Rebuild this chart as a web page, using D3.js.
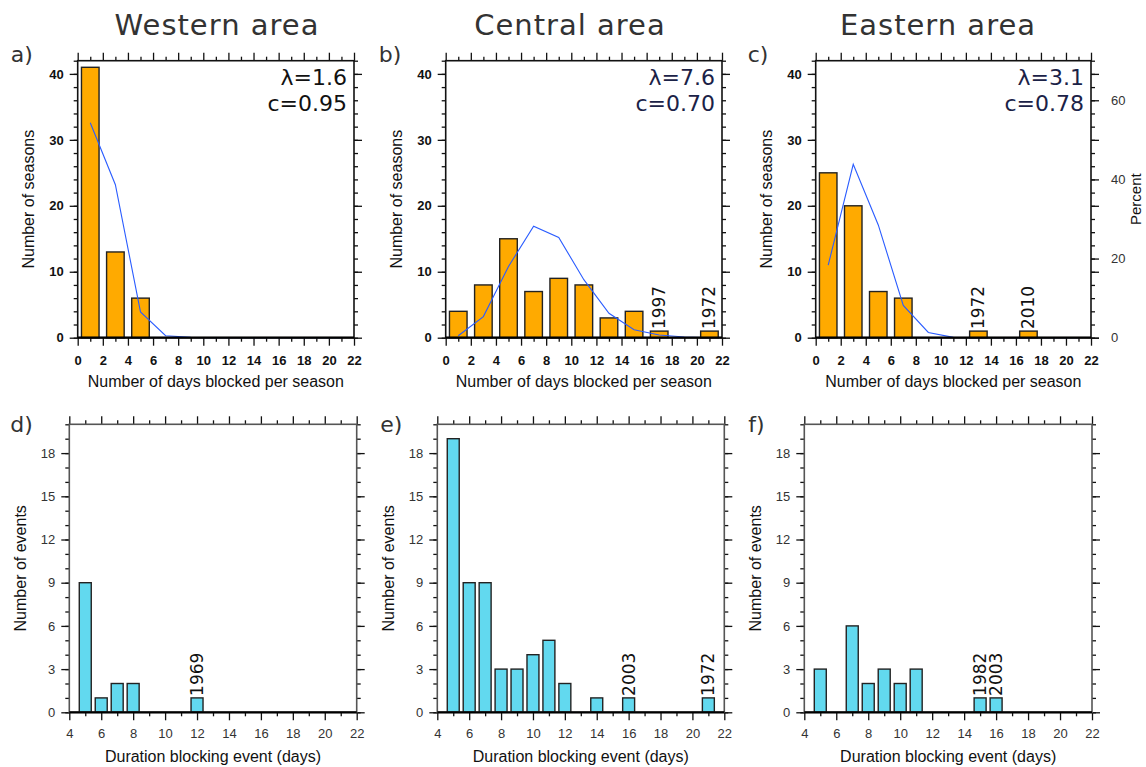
<!DOCTYPE html>
<html lang="en">
<head>
<meta charset="UTF-8">
<title>Blocking histograms</title>
<style>
  body { margin: 0; background: #fff; }
  text { font-family: "Liberation Sans", Arial, sans-serif; }
</style>
</head>
<body>
<svg width="1146" height="767"></svg>
<script src="https://d3js.org/d3.v7.min.js"></script>
<script>
// ---- data ----
var areaTitles = ["Western area", "Central area", "Eastern area"];
var topLetters = ["a)", "b)", "c)"];
var bottomLetters = ["d)", "e)", "f)"];

// days blocked per season (bin centres)
var dayBins = [1, 3, 5, 7, 9, 11, 13, 15, 17, 19, 21];
var westSeasons    = [41, 13, 6, 0, 0, 0, 0, 0, 0, 0, 0];
var centralSeasons = [4, 8, 15, 7, 9, 8, 3, 4, 1, 0, 1];
var easternSeasons = [25, 20, 7, 6, 0, 0, 1, 0, 1, 0, 0];

// fitted curve (in number of seasons)
var westFit    = [32.6, 23.2, 3.9, 0.3, 0.05, 0, 0, 0, 0, 0, 0];
var centralFit = [0.3, 3.2, 10.8, 16.9, 15.2, 8.8, 3.7, 1.2, 0.4, 0.1, 0];
var easternFit = [11.0, 26.3, 17.1, 4.9, 0.8, 0.05, 0, 0, 0, 0, 0];

var lambdas = ["λ=1.6", "λ=7.6", "λ=3.1"];
var cValues = ["c=0.95", "c=0.70", "c=0.78"];

var centralSeasonYears = [{x: 17, label: "1997"}, {x: 21, label: "1972"}];
var easternSeasonYears = [{x: 13, label: "1972"}, {x: 17, label: "2010"}];

// duration of blocking events
var durBins = [5, 6, 7, 8, 9, 10, 11, 12, 13, 14, 15, 16, 17, 18, 19, 20, 21];
var westEvents    = [9, 1, 2, 2, 0, 0, 0, 1, 0, 0, 0, 0, 0, 0, 0, 0, 0];
var centralEvents = [19, 9, 9, 3, 3, 4, 5, 2, 0, 1, 0, 1, 0, 0, 0, 0, 1];
var easternEvents = [3, 0, 6, 2, 3, 2, 3, 0, 0, 0, 1, 1, 0, 0, 0, 0, 0];

var westEventYears    = [{x: 12, label: "1969"}];
var centralEventYears = [{x: 16, label: "2003"}, {x: 21, label: "1972"}];
var easternEventYears = [{x: 15, label: "1982"}, {x: 16, label: "2003"}];

var totalEasternSeasons = 60;   // for the percent axis

// ---- layout ----
var svg = d3.select("svg");
var topCols = [[77.7, 354], [445.7, 722], [815.7, 1091]];
var botCols = [[69.3, 356.7], [437.3, 724.3], [804.3, 1092]];
var topRows = [60.7, 337.7];
var botRows = [424.3, 712.3];
var orange = "#ffaa00";
var cyan = "#62d9ef";

var titleX = [217, 570, 938];
areaTitles.forEach(function(t, i) {
  svg.append("text")
    .attr("x", titleX[i]).attr("y", 35)
    .attr("text-anchor", "middle")
    .style("font-family", "DejaVu Sans")
    .style("font-size", "29px")
    .style("letter-spacing", "1px")
    .attr("fill", "#333")
    .text(t);
});

function range(a, b, step) { return d3.range(a, b + 0.001, step); }

function frame(g, x, y, xMaj, xMin, yMaj, yMin, fontW, tickCol, xPad) {
  var bottom = y.range()[0], top = y.range()[1];
  var left = x.range()[0], right = x.range()[1];
  var tb = "translate(0," + bottom + ")", tt = "translate(0," + top + ")";
  var tl = "translate(" + left + ",0)", tr = "translate(" + right + ",0)";
  // minor ticks
  g.append("g").attr("transform", tb)
    .call(d3.axisBottom(x).tickValues(xMin).tickSize(4).tickFormat(""));
  g.append("g").attr("transform", tt)
    .call(d3.axisTop(x).tickValues(xMin).tickSize(4).tickFormat(""));
  g.append("g").attr("transform", tl)
    .call(d3.axisLeft(y).tickValues(yMin).tickSize(4).tickFormat(""));
  g.append("g").attr("transform", tr)
    .call(d3.axisRight(y).tickValues(yMin).tickSize(4).tickFormat(""));
  // major ticks
  g.append("g").attr("transform", tb)
    .call(d3.axisBottom(x).tickValues(xMaj).tickSize(8).tickPadding(xPad));
  g.append("g").attr("transform", tt)
    .call(d3.axisTop(x).tickValues(xMaj).tickSize(8).tickFormat(""));
  g.append("g").attr("transform", tl)
    .call(d3.axisLeft(y).tickValues(yMaj).tickSize(8).tickPadding(6));
  g.append("g").attr("transform", tr)
    .call(d3.axisRight(y).tickValues(yMaj).tickSize(8).tickFormat(""));
  g.selectAll(".domain").remove();
  g.selectAll(".tick line").attr("stroke", "#111").attr("stroke-width", 1.3);
  g.selectAll(".tick text").attr("fill", tickCol).style("font-size", "13px")
    .style("font-family", "Liberation Sans").style("font-weight", fontW);
}

function drawPanel(opts) {
  var x = d3.scaleLinear().domain(opts.xDomain).range(opts.cols);
  var y = d3.scaleLinear().domain(opts.yDomain).range([opts.rows[1], opts.rows[0]]);
  var g = svg.append("g");

  frame(g, x, y, opts.xMaj, opts.xMin, opts.yMaj, opts.yMin, opts.fontW, opts.tickCol, opts.xPad);

  // bars
  var data = opts.bins.map(function(b, i) { return {x: b, v: opts.values[i]}; })
    .filter(function(d) { return d.v > 0; });
  g.append("g").selectAll("rect").data(data).enter().append("rect")
    .attr("x", function(d) { return x(d.x - opts.barW / 2); })
    .attr("width", function(d) { return x(d.x + opts.barW / 2) - x(d.x - opts.barW / 2); })
    .attr("y", function(d) { return y(d.v); })
    .attr("height", function(d) { return y(0) - y(d.v); })
    .attr("fill", opts.fill)
    .attr("stroke", "#222")
    .attr("stroke-width", 1.4);

  // fitted curve
  if (opts.fit) {
    var line = d3.line().x(function(d) { return x(d[0]); }).y(function(d) { return y(d[1]); });
    g.append("path")
      .datum(opts.bins.map(function(b, i) { return [b, opts.fit[i]]; }))
      .attr("d", line)
      .attr("fill", "none")
      .attr("stroke", "#2a5cff")
      .attr("stroke-width", 1.1);
  }

  // frame
  g.append("rect")
    .attr("x", opts.cols[0]).attr("y", opts.rows[0])
    .attr("width", opts.cols[1] - opts.cols[0])
    .attr("height", opts.rows[1] - opts.rows[0])
    .attr("fill", "none").attr("stroke", opts.frameColor).attr("stroke-width", 1.6);
  g.append("line")
    .attr("x1", opts.cols[0]).attr("x2", opts.cols[1])
    .attr("y1", opts.rows[1]).attr("y2", opts.rows[1])
    .attr("stroke", "#000").attr("stroke-width", 2.2);

  // year labels
  (opts.years || []).forEach(function(yr) {
    var v = opts.values[opts.bins.indexOf(yr.x)];
    g.append("text")
      .attr("transform", "translate(" + (x(yr.x) + 6) + "," + (y(v) - 2) + ") rotate(-90)")
      .style("font-family", "DejaVu Sans")
      .style("font-size", "17px")
      .attr("fill", "#111")
      .text(yr.label);
  });

  // lambda / c
  if (opts.lambda) {
    [opts.lambda, opts.c].forEach(function(t, k) {
      g.append("text")
        .attr("x", opts.cols[1] - 7).attr("y", opts.rows[0] + 24 + k * 26)
        .attr("text-anchor", "end")
        .style("font-family", "DejaVu Sans")
        .style("font-size", "22px")
        .attr("fill", opts.statColor)
        .text(t);
    });
  }

  // axis titles
  g.append("text")
    .attr("x", (opts.cols[0] + opts.cols[1]) / 2).attr("y", opts.xLabelY)
    .attr("text-anchor", "middle").style("font-size", "16px").attr("fill", "#111")
    .text(opts.xLabel);
  g.append("text")
    .attr("transform", "translate(" + (opts.cols[0] - opts.yLabelOff) + "," +
      ((opts.rows[0] + opts.rows[1]) / 2) + ") rotate(-90)")
    .attr("text-anchor", "middle").style("font-size", "16px").attr("fill", "#111")
    .text(opts.yLabel);

  // panel letter
  svg.append("text")
    .attr("x", opts.cols[0] - opts.letterOff).attr("y", opts.rows[0] + opts.letterDy)
    .style("font-family", "DejaVu Sans").style("font-size", "22px").attr("fill", "#333")
    .text(opts.letter);

  return {x: x, y: y, g: g};
}

var seasonSets = [
  {values: westSeasons, fit: westFit, years: [], statColor: "#111"},
  {values: centralSeasons, fit: centralFit, years: centralSeasonYears, statColor: "#1b2247"},
  {values: easternSeasons, fit: easternFit, years: easternSeasonYears, statColor: "#1b2247"}
];
var eventSets = [
  {values: westEvents, years: westEventYears},
  {values: centralEvents, years: centralEventYears},
  {values: easternEvents, years: easternEventYears}
];

seasonSets.forEach(function(s, i) {
  drawPanel({
    cols: topCols[i], rows: topRows,
    xDomain: [0, 22], yDomain: [0, 42],
    xMaj: range(0, 22, 2), xMin: range(1, 21, 2),
    yMaj: [0, 10, 20, 30, 40], yMin: range(0, 42, 2),
    bins: dayBins, values: s.values, fit: s.fit, barW: 1.4, fill: orange,
    years: s.years, lambda: lambdas[i], c: cValues[i], statColor: s.statColor,
    xLabel: "Number of days blocked per season", xLabelY: 387,
    yLabel: "Number of seasons", yLabelOff: 44,
    frameColor: "#111", fontW: "bold", tickCol: "#111", xPad: 10,
    letter: topLetters[i], letterOff: [67, 67, 68][i], letterDy: 1
  });
});

// percent axis on panel c
var pct = d3.scaleLinear()
  .domain([0, 42 / totalEasternSeasons * 100])
  .range([topRows[1], topRows[0]]);
var pa = svg.append("g").attr("transform", "translate(" + topCols[2][1] + ",0)")
  .call(d3.axisRight(pct).tickValues([0, 20, 40, 60]).tickSize(8).tickPadding(12));
pa.select(".domain").remove();
pa.selectAll(".tick line").attr("stroke", "#111").attr("stroke-width", 1.3);
pa.selectAll(".tick text").style("font-size", "13px").attr("fill", "#333");
svg.append("text")
  .attr("transform", "translate(1141," + ((topRows[0] + topRows[1]) / 2) + ") rotate(-90)")
  .attr("text-anchor", "middle").style("font-size", "15px").attr("fill", "#111")
  .text("Percent");

eventSets.forEach(function(s, i) {
  drawPanel({
    cols: botCols[i], rows: botRows,
    xDomain: [4, 22], yDomain: [0, 20],
    xMaj: range(4, 22, 2), xMin: range(5, 21, 2),
    yMaj: range(0, 18, 3), yMin: range(0, 20, 1),
    bins: durBins, values: s.values, barW: 0.75, fill: cyan,
    years: s.years,
    xLabel: "Duration blocking event (days)", xLabelY: 762,
    yLabel: "Number of events", yLabelOff: 43,
    frameColor: "#555", fontW: "normal", tickCol: "#333", xPad: 8,
    letter: bottomLetters[i], letterOff: [59, 57, 56][i], letterDy: 8
  });
});
</script>
</body>
</html>
